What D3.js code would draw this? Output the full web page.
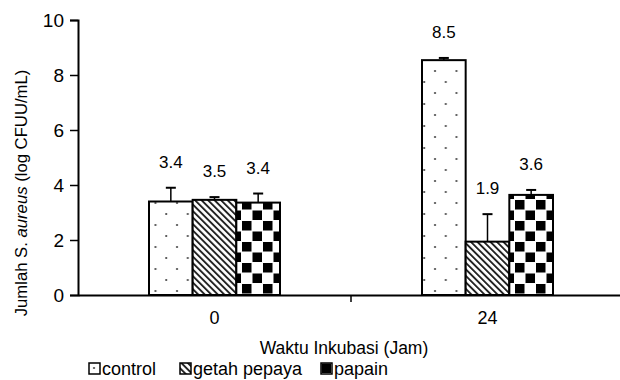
<!DOCTYPE html>
<html>
<head>
<meta charset="utf-8">
<script src="https://cdn.jsdelivr.net/npm/d3@7"></script>
<style>
  body { margin: 0; background: #fff; }
  text { font-family: "Liberation Sans", Arial, sans-serif; fill: #000; }
</style>
</head>
<body>
<svg id="chart" width="620" height="380"></svg>
<script>
// data
const groups = ["0", "24"];
const series = ["control", "getah pepaya", "papain"];
const control = [3.4, 8.54];
const getah = [3.46, 1.94];
const papain = [3.36, 3.64];
const controlErr = [0.5, 0.08];
const getahErr = [0.1, 1.0];
const papainErr = [0.33, 0.18];
const yTicks = [0, 2, 4, 6, 8, 10];

const values = [control, getah, papain];
const errors = [controlErr, getahErr, papainErr];
const fills = ["url(#dots)", "url(#stripes)", "url(#checks)"];

const svg = d3.select("#chart");
const defs = svg.append("defs");

// patterns
const dots = defs.append("pattern")
  .attr("id", "dots")
  .attr("patternUnits", "userSpaceOnUse")
  .attr("width", 21.5).attr("height", 22);
dots.append("rect").attr("width", 21.5).attr("height", 22).attr("fill", "#fff");
dots.append("circle").attr("cx", 5).attr("cy", 5).attr("r", 1.1).attr("fill", "#444");
dots.append("circle").attr("cx", 15.75).attr("cy", 16).attr("r", 1.1).attr("fill", "#444");

const stripes = defs.append("pattern")
  .attr("id", "stripes")
  .attr("patternUnits", "userSpaceOnUse")
  .attr("width", 4.6).attr("height", 4.6)
  .attr("patternTransform", "rotate(-45)");
stripes.append("rect").attr("width", 4.6).attr("height", 4.6).attr("fill", "#fff");
stripes.append("rect").attr("width", 1.9).attr("height", 4.6).attr("fill", "#222");

const checks = defs.append("pattern")
  .attr("id", "checks")
  .attr("patternUnits", "userSpaceOnUse")
  .attr("width", 21).attr("height", 21);
checks.append("rect").attr("width", 21).attr("height", 21).attr("fill", "#fff");
checks.append("rect").attr("x", 0.5).attr("y", 0.5).attr("width", 9.5).attr("height", 9.5).attr("fill", "#000");
checks.append("rect").attr("x", 11).attr("y", 11).attr("width", 9.5).attr("height", 9.5).attr("fill", "#000");

// scales
const x = d3.scaleBand().domain(groups).range([78, 624]);
const inner = d3.scaleBand().domain(series).range([0, 131]);
const innerOffset = (x.bandwidth() - 131) / 2;
const y = d3.scaleLinear().domain([0, 10]).range([295, 20]);
const fmt = d3.format(".1f");

// bars
series.forEach((s, si) => {
  const g = svg.append("g");
  g.selectAll("rect")
    .data(groups)
    .join("rect")
    .attr("x", (d) => x(d) + innerOffset + inner(s))
    .attr("y", (d, i) => y(values[si][i]))
    .attr("width", inner.bandwidth())
    .attr("height", (d, i) => y(0) - y(values[si][i]))
    .attr("fill", fills[si])
    .attr("stroke", "#000")
    .attr("stroke-width", 2);

  // error bars
  groups.forEach((d, i) => {
    const cx = x(d) + innerOffset + inner(s) + inner.bandwidth() / 2;
    const top = y(values[si][i] + errors[si][i]);
    g.append("line")
      .attr("x1", cx).attr("x2", cx)
      .attr("y1", y(values[si][i])).attr("y2", top)
      .attr("stroke", "#000").attr("stroke-width", 1.5);
    g.append("line")
      .attr("x1", cx - 5).attr("x2", cx + 5)
      .attr("y1", top).attr("y2", top)
      .attr("stroke", "#000").attr("stroke-width", 2);
    g.append("text")
      .attr("x", cx)
      .attr("y", top - 20)
      .attr("text-anchor", "middle")
      .attr("font-size", 17)
      .text(fmt(values[si][i]));
  });
});

// y axis
const yAxis = svg.append("g")
  .attr("transform", "translate(78,0)")
  .call(d3.axisLeft(y).tickValues(yTicks).tickSize(8).tickPadding(6));
yAxis.select(".domain").attr("stroke-width", 2);
yAxis.selectAll(".tick line").attr("stroke-width", 1.5);
yAxis.selectAll(".tick text")
  .attr("font-size", 19)
  .attr("font-family", "Liberation Sans, Arial, sans-serif")
  .attr("fill", "#000");

// x axis
const xAxis = svg.append("g")
  .attr("transform", "translate(0,295)")
  .call(d3.axisBottom(x).tickSize(0).tickPadding(16));
xAxis.select(".domain").attr("stroke-width", 2);
xAxis.selectAll(".tick text")
  .attr("font-size", 18)
  .attr("font-family", "Liberation Sans, Arial, sans-serif")
  .attr("fill", "#000");
// separator ticks between categories
svg.append("g")
  .selectAll("line")
  .data(groups.slice(1))
  .join("line")
  .attr("x1", (d) => x(d)).attr("x2", (d) => x(d))
  .attr("y1", 295).attr("y2", 302)
  .attr("stroke", "#000").attr("stroke-width", 1.5);

// axis titles
svg.append("text")
  .attr("x", 344).attr("y", 354)
  .attr("text-anchor", "middle")
  .attr("font-size", 17.5)
  .text("Waktu Inkubasi (Jam)");

const yTitle = svg.append("text")
  .attr("transform", "translate(27,193) rotate(-90)")
  .attr("text-anchor", "middle")
  .attr("font-size", 16.7);
yTitle.append("tspan").text("Jumlah S. ");
yTitle.append("tspan").attr("font-style", "italic").text("aureus");
yTitle.append("tspan").text(" (log CFUU/mL)");

// legend
const legendX = [89, 180, 321];
const legend = svg.append("g")
  .selectAll("g")
  .data(series)
  .join("g")
  .attr("transform", (d, i) => `translate(${legendX[i]},363)`);
legend.append("rect")
  .attr("width", 11).attr("height", 11)
  .attr("fill", (d, i) => fills[i])
  .attr("stroke", "#000").attr("stroke-width", 1.5);
legend.append("text")
  .attr("x", 13).attr("y", 12)
  .attr("font-size", 18)
  .text((d) => d);
</script>
</body>
</html>
